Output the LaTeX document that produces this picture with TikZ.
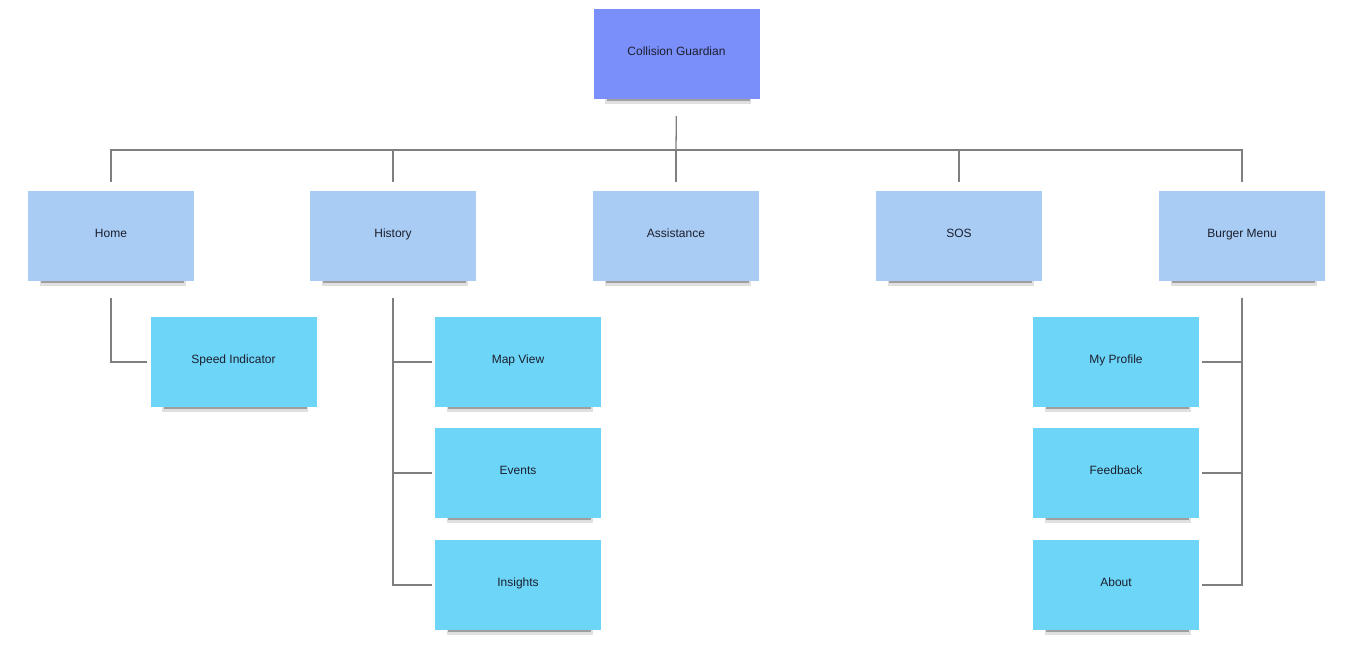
\documentclass[tikz,border=0pt]{standalone}
\usepackage{fontspec}
\setmainfont{Liberation Sans}
\usetikzlibrary{shadows,calc}
\definecolor{rootc}{HTML}{7B8FFB}
\definecolor{lvlone}{HTML}{A8CCF3}
\definecolor{lvltwo}{HTML}{6DD5F7}
\definecolor{linec}{HTML}{7F7F7F}
\definecolor{txtc}{HTML}{1B1F2E}
\tikzset{
  sticky/.style={rectangle, minimum width=166pt, minimum height=90pt, inner sep=0pt,
    text height=9pt, text depth=6pt,
    text=txtc, font=\fontsize{12}{14}\selectfont,
    drop shadow={shadow xshift=2pt, shadow yshift=-12pt, shadow scale=0.88, opacity=0.12, fill=black},
    drop shadow={shadow xshift=2pt, shadow yshift=-10pt, shadow scale=0.86, opacity=0.4, fill=black!75}},
  rootbox/.style={sticky, fill=rootc},
  onebox/.style={sticky, fill=lvlone},
  twobox/.style={sticky, fill=lvltwo},
  conn/.style={draw=linec, line width=1.3pt}
}
\begin{document}
\begin{tikzpicture}[x=1pt, y=-1pt]
\useasboundingbox (0,0) rectangle (1360,654);
\node[rootbox] (root) at (676.5,54) {Collision Guardian};
\node[onebox] (home) at (111,235.5) {Home};
\node[onebox] (history) at (393,235.5) {History};
\node[onebox] (assist) at (676,235.5) {Assistance};
\node[onebox] (sos) at (959,235.5) {SOS};
\node[onebox] (burger) at (1242,235.5) {Burger Menu};
\node[twobox] (speed) at (233.5,362) {Speed Indicator};
\node[twobox] (map) at (518,362) {Map View};
\node[twobox] (events) at (518,473) {Events};
\node[twobox] (insights) at (518,585) {Insights};
\node[twobox] (profile) at (1116,362) {My Profile};
\node[twobox] (feedback) at (1116,473) {Feedback};
\node[twobox] (about) at (1116,585) {About};
\coordinate (bus) at (676,150);
\draw[conn, shorten <=17pt] (root.south) -- (bus);
\foreach \c in {home,history,assist,sos,burger}
  \draw[conn, shorten >=8pt] (bus) -| (\c.north);
\draw[conn, shorten <=17pt, shorten >=3pt] (home.south) |- (speed.west);
\foreach \c in {map,events,insights}
  \draw[conn, shorten <=17pt, shorten >=3pt] (history.south) |- (\c.west);
\foreach \c in {profile,feedback,about}
  \draw[conn, shorten <=17pt, shorten >=3pt] (burger.south) |- (\c.east);
\end{tikzpicture}
\end{document}
